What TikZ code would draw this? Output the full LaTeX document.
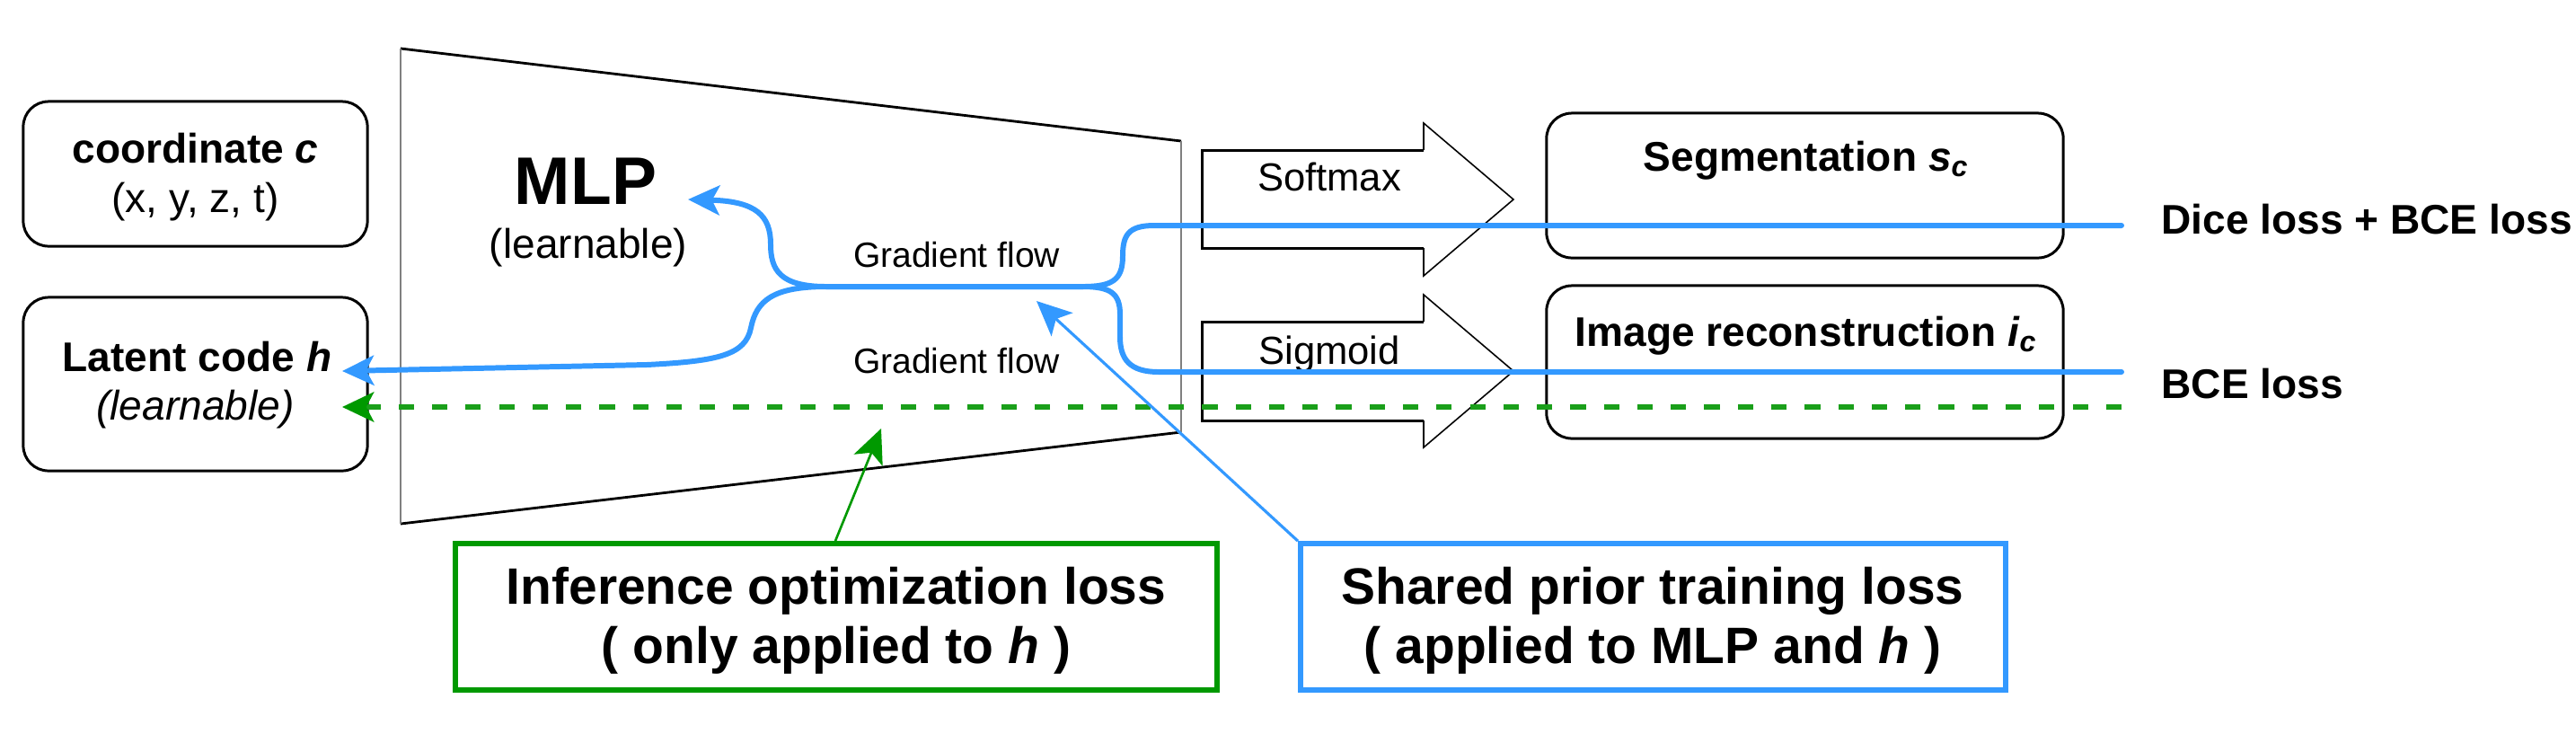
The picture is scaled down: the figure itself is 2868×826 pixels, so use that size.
\documentclass[tikz,border=0pt]{standalone}
\usepackage{fontspec}
\setmainfont{Liberation Sans}
\usetikzlibrary{arrows.meta}
\definecolor{flowblue}{HTML}{3399FF}
\definecolor{optgreen}{HTML}{009900}
\definecolor{dashgreen}{HTML}{1A9F1A}
\definecolor{edgegray}{HTML}{808080}
\begin{document}
\begin{tikzpicture}[x=0.01cm,y=-0.01cm,
  box/.style={draw, line width=0.85pt, rounded corners=8pt, inner sep=0pt},
  lossbox/.style={draw, line width=1.6pt, inner sep=0pt},
  txt/.style={inner sep=0pt, anchor=base, font=\fontsize{13.1}{15.7}\selectfont},
  btxt/.style={inner sep=0pt, anchor=base, font=\fontsize{13.1}{15.7}\selectfont\bfseries},
  ltxt/.style={inner sep=0pt, anchor=base, font=\fontsize{16.2}{19}\selectfont\bfseries},
  smalltxt/.style={inner sep=0pt, anchor=base, font=\fontsize{11.1}{13}\selectfont},
  acttxt/.style={inner sep=0pt, anchor=base, font=\fontsize{12.4}{14.5}\selectfont},
  flow/.style={draw=flowblue, line width=1.7pt, line cap=round, line join=round,
    -{Stealth[length=10pt, width=9.4pt, inset=2.4pt]}},
  dashflow/.style={draw=dashgreen, line width=1.6pt, dash pattern=on 4.9pt off 5.7pt,
    -{Stealth[length=10pt, width=9.4pt, inset=2.4pt, fill=optgreen, color=optgreen]}},
  gpointer/.style={draw=optgreen, line width=0.75pt, -{Stealth[length=10.8pt, width=9.8pt, inset=2.6pt]}},
  bpointer/.style={draw=flowblue, line width=0.9pt, -{Stealth[length=11pt, width=10pt, inset=2.6pt]}},
  actarrow/.style={draw, line width=0.85pt},
  acthead/.style={draw, line width=0.45pt, line join=miter}
]
\path[use as bounding box, fill=white] (0,0) rectangle (2868,826);

% MLP trapezoid
\draw[line width=0.8pt] (446,54) -- (1315,157);
\draw[line width=0.8pt] (446,583) -- (1315,481);
\draw[line width=0.75pt, edgegray] (446,54) -- (446,583);
\draw[line width=0.75pt, edgegray] (1315,157) -- (1315,481);
\node[inner sep=0pt, anchor=base, font=\fontsize{21.3}{25}\selectfont\bfseries] (mlp) at (652,227) {MLP};
\node[txt] (mlplearn) at (655,287) {(learnable)};

% input boxes
\node[box, minimum width=3.83cm, minimum height=1.61cm] (coordBox) at (217.5,193.5) {};
\node[btxt] (coordT) at (217.5,181) {coordinate \textit{c}};
\node[txt] (coordS) at (217.5,236) {(x, y, z, t)};
\node[box, minimum width=3.83cm, minimum height=1.93cm] (latBox) at (217.5,427.5) {};
\node[btxt] (latT) at (219.5,413) {Latent code \textit{h}};
\node[txt] (latS) at (217.5,467) {\textit{(learnable)}};

% activation arrows
\draw[actarrow] (1585,167) -- (1338,167) -- (1338,276) -- (1585,276);
\draw[acthead] (1585,167) -- (1585,137) -- (1685,222) -- (1585,307) -- (1585,276);
\node[acttxt] (softmax) at (1480,212) {Softmax};
\draw[actarrow] (1585,358) -- (1338,358) -- (1338,468) -- (1585,468);
\draw[acthead] (1585,358) -- (1585,328) -- (1685,413) -- (1585,498) -- (1585,468);
\node[acttxt] (sigmoid) at (1480,405) {Sigmoid};

% output boxes
\node[box, minimum width=5.75cm, minimum height=1.61cm] (segBox) at (2009.5,206.5) {};
\node[btxt] (segT) at (2011,190) {Segmentation \textit{s}\textsubscript{\textit{c}}};
\node[box, minimum width=5.75cm, minimum height=1.70cm] (imgBox) at (2009.5,403) {};
\node[btxt] (imgT) at (2011,385) {Image reconstruction \textit{i}\textsubscript{\textit{c}}};

% loss labels
\node[btxt, anchor=base west] (dice) at (2406,260) {Dice loss + BCE loss};
\node[btxt, anchor=base west] (bce) at (2406,443) {BCE loss};

% gradient flow labels
\node[smalltxt] (gf1) at (1065,297) {Gradient flow};
\node[smalltxt] (gf2) at (1065,415) {Gradient flow};

% coordinates for free ends
\coordinate (diceEnd) at (2362,251);
\coordinate (bceEnd) at (2362,414);
\coordinate (mlpTip) at (766,222);
\coordinate (hTip) at (381,413);
\coordinate (greenEnd) at (2362,453);
\coordinate (greenTip) at (381,453);
\coordinate (gTip) at (981,477);
\coordinate (bTip) at (1154,335);

% green dashed inference flow
\draw[dashflow] (greenEnd) -- (greenTip);

% blue gradient flows
\draw[flow] (diceEnd) -- (1285,251) .. controls (1256,251) and (1250,262) .. (1250,285)
  .. controls (1250,312) and (1238,319) .. (1205,319) -- (920,319)
  .. controls (868,319) and (858,300) .. (858,272)
  .. controls (858,240) and (842,224) .. (mlpTip);
\draw[flow] (bceEnd) -- (1290,414) .. controls (1258,414) and (1247,400) .. (1247,375)
  -- (1247,350) .. controls (1247,326) and (1236,319) .. (1205,319) -- (920,319)
  .. controls (860,319) and (842,335) .. (836,365)
  .. controls (830,395) and (800,402) .. (720,406) -- (hTip);

% loss boxes
\node[lossbox, draw=optgreen, minimum width=8.48cm, minimum height=1.63cm] (infBox) at (931,686.5) {};
\node[ltxt] (infT1) at (931,672) {Inference optimization loss};
\node[ltxt] (infT2) at (931,738) {( only applied to \textit{h} )};
\node[lossbox, draw=flowblue, minimum width=7.85cm, minimum height=1.63cm] (shBox) at (1840.5,686.5) {};
\node[ltxt] (shT1) at (1840,672) {Shared prior training loss};
\node[ltxt] (shT2) at (1840,738) {( applied to MLP and \textit{h} )};

% pointers
\draw[gpointer] (infBox.north -| 930,0) -- (gTip);
\draw[bpointer] (shBox.north west) -- (bTip);
\end{tikzpicture}
\end{document}
